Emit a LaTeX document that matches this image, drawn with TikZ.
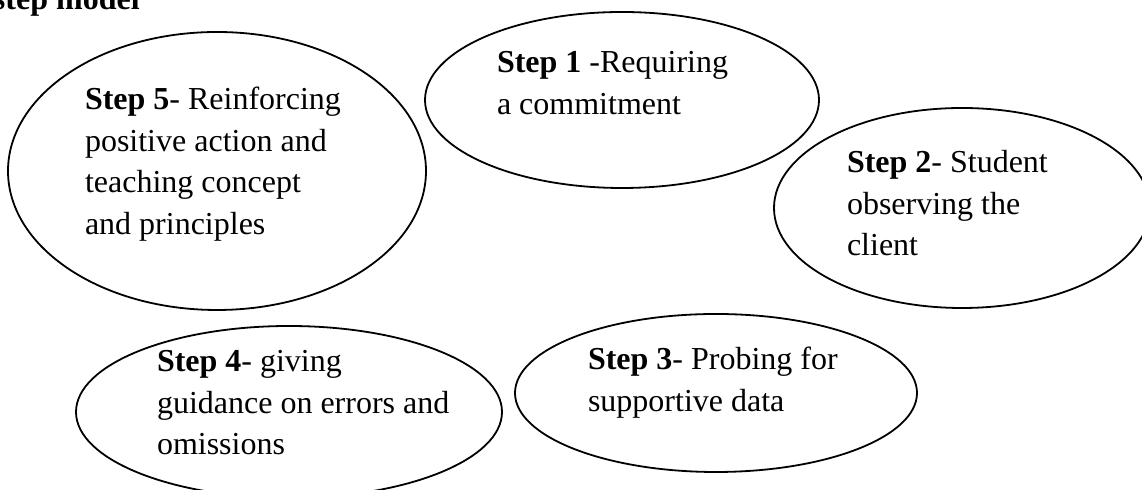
\documentclass[tikz,border=0pt]{standalone}
\usepackage{fontspec}
\setmainfont{Liberation Serif}
\usetikzlibrary{shapes.geometric}
\newcommand\blocktext[1]{\begin{tabular}[t]{@{}l@{}}#1\end{tabular}}
\tikzset{
  stepellipse/.style={draw=black, line width=0.9pt, ellipse, inner sep=0pt},
  steptext/.style={anchor=base west, inner sep=0pt, outer sep=0pt,
     font=\fontsize{16}{20.75}\selectfont},
}
\begin{document}
\begin{tikzpicture}[x=0.5pt,y=-0.5pt]
\useasboundingbox (0,0) rectangle (1142,490);
\clip (0,0) rectangle (1142,490);
% title
\node[steptext] (title) at (-7,10) {\textbf{step model}};
% ellipses
\node[stepellipse, minimum width=209pt, minimum height=139pt] (e5) at (217,171) {};
\node[stepellipse, minimum width=197pt, minimum height=88pt] (e1) at (622,100) {};
\node[stepellipse, minimum width=188pt, minimum height=100pt] (e2) at (962,208) {};
\node[stepellipse, minimum width=213pt, minimum height=86pt] (e4) at (289,412) {};
\node[stepellipse, minimum width=201pt, minimum height=79pt] (e3) at (716,393) {};
% texts
\node[steptext] (t5) at (85,110) {\blocktext{\textbf{Step 5}- Reinforcing\\positive action and\\teaching concept\\and principles}};
\node[steptext] (t1) at (497,73) {\blocktext{\textbf{Step 1} -Requiring\\a commitment}};
\node[steptext] (t2) at (847,173) {\blocktext{\textbf{Step 2}- Student\\observing the\\client}};
\node[steptext] (t4) at (157,372) {\blocktext{\textbf{Step 4}- giving\\guidance on errors and\\omissions}};
\node[steptext] (t3) at (588,370) {\blocktext{\textbf{Step 3}- Probing for\\supportive data}};
\end{tikzpicture}
\end{document}
